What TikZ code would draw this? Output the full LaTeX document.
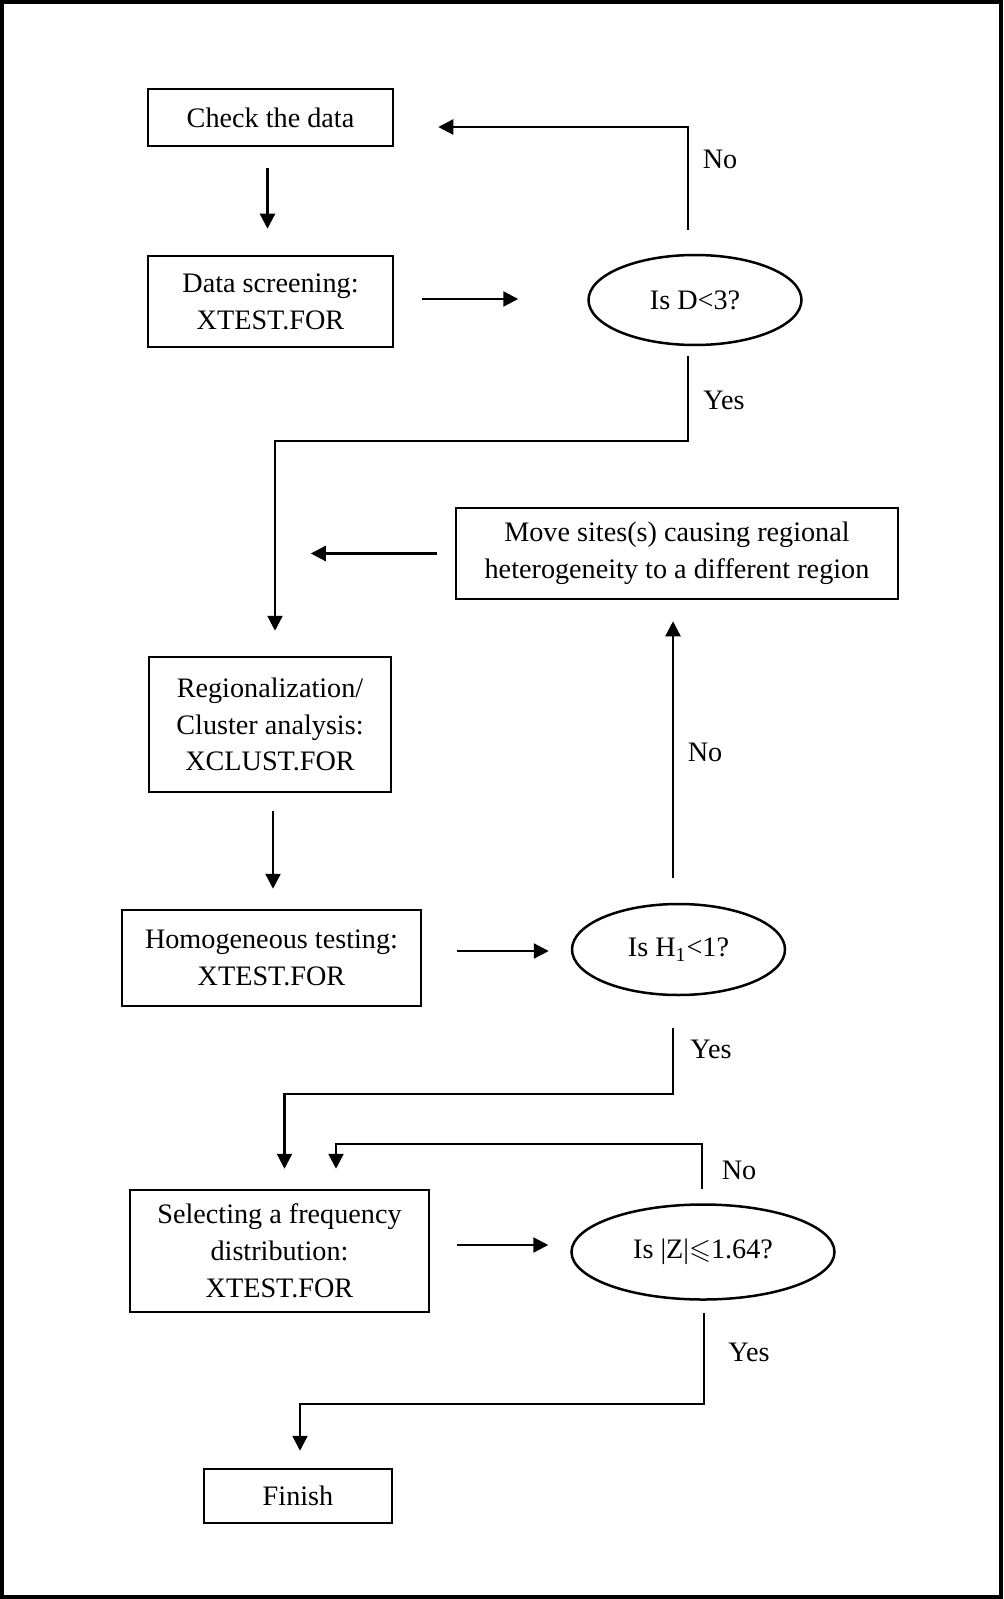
\documentclass[tikz,border=0pt]{standalone}
\usepackage{fontspec}
\setmainfont{Liberation Serif}
\usepackage{amssymb}
\usetikzlibrary{arrows.meta,calc,shapes.geometric}

\begin{document}
\begin{tikzpicture}[x=0.5pt,y=-0.5pt,
    font=\fontsize{14.1}{18.4}\selectfont,
    box/.style={draw,line width=1.25pt,inner sep=0pt,align=center},
    test/.style={draw,ellipse,line width=1.25pt,inner sep=0pt},
    arr/.style={line width=1.15pt,-{Triangle[length=7.5pt,width=7.5pt]}},
    lbl/.style={inner sep=0pt}]
    \useasboundingbox (0,0) rectangle (1003,1599);
    \draw[line width=2pt] (2,2) rectangle (1000.5,1597);
    % steps
    \node[box,minimum width=122.5pt,minimum height=28.5pt] (check) at (270.5,117.5) {Check the data};
    \node[box,minimum width=122.5pt,minimum height=45.5pt] (screen) at (270.5,301.5) {Data screening:\\XTEST.FOR};
    \node[box,minimum width=221pt,minimum height=45.5pt] (move) at (677,553.5) {Move sites(s) causing regional\\heterogeneity to a different region};
    \node[box,minimum width=121pt,minimum height=67.5pt] (region) at (270,724.5) {Regionalization/\\Cluster analysis:\\XCLUST.FOR};
    \node[box,minimum width=149.5pt,minimum height=48pt] (homog) at (271.5,958) {Homogeneous testing:\\XTEST.FOR};
    \node[box,minimum width=149.5pt,minimum height=61pt] (select) at (279.5,1251) {Selecting a frequency\\distribution:\\XTEST.FOR};
    \node[box,minimum width=94pt,minimum height=27pt] (finish) at (298,1496) {Finish};
    % tests
    \node[test,minimum width=106.5pt,minimum height=45pt] (dcheck) at (695,300) {Is D<3?};
    \node[test,minimum width=106.5pt,minimum height=45.5pt] (hcheck) at (678.5,949.5) {Is H\textsubscript{1}<1?};
    \node[test,minimum width=131.5pt,minimum height=47.5pt] (zcheck) at (703,1252) {Is |Z|$\leqslant$1.64?};
    % answers
    \node[lbl] (noD) at (720,159) {No};
    \node[lbl] (yesD) at (724,400) {Yes};
    \node[lbl] (noH) at (705,752) {No};
    \node[lbl] (yesH) at (711,1049) {Yes};
    \node[lbl] (noZ) at (739,1170) {No};
    \node[lbl] (yesZ) at (749,1352) {Yes};
    % connectors
    \draw[arr] ($(check.south)+(-3,21)$) -- ($(screen.north)+(-3,-26)$);
    \draw[arr] ($(screen.east)+(28,-2.5)$) -- ($(dcheck.west)+(-69,-1)$);
    \draw[arr] ($(dcheck.north)+(-7,-24)$) |- ($(check.east)+(44,9.5)$);
    \draw[arr] ($(dcheck.south)+(-7,10)$) -- ++(0,85) -| ($(region.north)+(5,-25)$);
    \draw[arr] ($(move.west)+(-18,0)$) -- ++(-126,0);
    \draw[arr] ($(region.south)+(3,18)$) -- ($(homog.north)+(1.5,-20)$);
    \draw[arr] ($(homog.east)+(35,-7)$) -- ($(hcheck.west)+(-22,1.5)$);
    \draw[arr] ($(hcheck.north)+(-5.5,-25)$) -- ($(move.south)+(-4,21)$);
    \draw[arr] ($(hcheck.south)+(-5.5,32)$) -- ++(0,66) -| ($(select.north)+(5,-20)$);
    \draw[arr] ($(select.east)+(27,-6)$) -- ($(zcheck.west)+(-22,-7)$);
    \draw[arr] ($(zcheck.north)+(-1,-14)$) -- ++(0,-45) -| ($(select.north)+(56.5,-20)$);
    \draw[arr] ($(zcheck.south)+(1,12)$) -- ++(0,91) -| ($(finish.north)+(2,-17)$);
\end{tikzpicture}
\end{document}
